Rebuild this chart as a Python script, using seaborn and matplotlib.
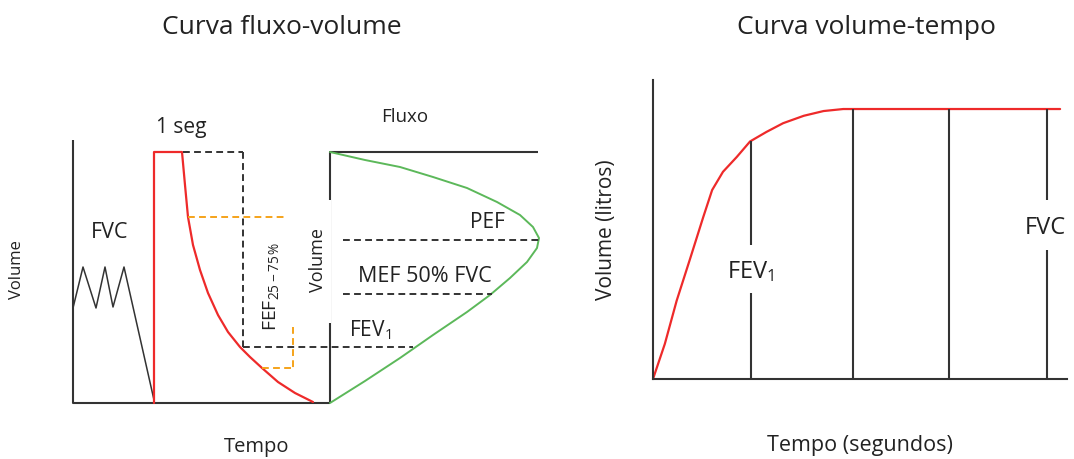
import numpy as np
import pandas as pd
import matplotlib.pyplot as plt
from matplotlib.patches import Rectangle
import seaborn as sns

sns.set_theme(style='white')
plt.rcParams['font.family'] = ['Open Sans', 'DejaVu Sans']
plt.rcParams['mathtext.fontset'] = 'custom'
plt.rcParams['mathtext.rm'] = 'Open Sans'
plt.rcParams['mathtext.it'] = 'Open Sans:italic'

RED = '#ee2a2a'
GREEN = '#5cb85a'
ORANGE = '#f5a31a'
DARK = '#333333'
TXT = '#222222'

# --- painel esquerdo (esquema, em coordenadas de pixel) ---
zigzag_x = [73, 83, 96, 105, 113, 124, 154]
zigzag_y = [308, 267, 308, 267, 307, 267, 400]

red_x = [154, 154, 182, 185, 188, 193, 200, 208, 218, 228, 240, 250, 262, 278, 295, 313]
red_y = [403, 152, 152, 185, 217, 245, 270, 293, 315, 332, 347, 357, 368, 382, 393, 402]

green_x = [330, 365, 400, 433, 467, 497, 520, 533, 539, 537, 527, 510, 490, 467, 433, 400, 365, 330]
green_y = [152, 160, 167, 177, 188, 202, 215, 227, 238, 248, 262, 278, 295, 312, 335, 358, 381, 403]

# linhas tracejadas: (x0, x1, y)
black_dash_h = [(183, 243, 152), (243, 413, 347), (343, 539, 240), (343, 492, 294)]
black_dash_v = [(243, 152, 347)]
orange_dash_h = [(188, 285, 217), (262, 293, 368)]
orange_dash_v = [(293, 327, 368)]

# --- painel direito: curva volume-tempo ---
tempo_s = [0, 0.12, 0.24, 0.376, 0.51, 0.60, 0.71, 0.85, 0.985, 1.15, 1.32, 1.53, 1.73, 1.93, 2.03, 4.13]
volume_l = [0, 0.52, 1.16, 1.78, 2.40, 2.80, 3.07, 3.29, 3.52, 3.66, 3.79, 3.90, 3.97, 4.0, 4.0, 4.0]
marcas_t = [0.99, 2.03, 3.0, 4.0]
fev1 = 3.53
fvc = 4.0

fig = plt.figure(figsize=(10.74, 4.59), dpi=100)

axl = fig.add_axes([0, 0, 1, 1])
axl.set_axis_off()

# eixos
axl.plot([73, 73, 330], [140, 403, 403], color=DARK, lw=1.5, solid_capstyle='butt')
axl.plot([330, 330, 538], [403, 152, 152], color=DARK, lw=1.5, solid_capstyle='butt')

sns.lineplot(x=zigzag_x, y=zigzag_y, sort=False, estimator=None, ax=axl, color=DARK, lw=1.1)
sns.lineplot(x=red_x, y=red_y, sort=False, estimator=None, ax=axl, color=RED, lw=1.6,
             solid_joinstyle='round')
sns.lineplot(x=green_x, y=green_y, sort=False, estimator=None, ax=axl, color=GREEN, lw=1.4,
             solid_joinstyle='round')

for x0, x1, y in black_dash_h:
    axl.plot([x0, x1], [y, y], color=DARK, lw=1.4, dashes=(3.5, 2.2))
for x, y0, y1 in black_dash_v:
    axl.plot([x, x], [y0, y1], color=DARK, lw=1.4, dashes=(3.5, 2.2))
for x0, x1, y in orange_dash_h:
    axl.plot([x0, x1], [y, y], color=ORANGE, lw=1.4, dashes=(3.5, 2.2))
for x, y0, y1 in orange_dash_v:
    axl.plot([x, x], [y0, y1], color=ORANGE, lw=1.4, dashes=(3.5, 2.2))

axl.add_patch(Rectangle((285, 200), 46, 123, facecolor='white', edgecolor='none', zorder=5))

axl.set_xlim(0, 1074)
axl.set_ylim(459, 0)

kw = dict(ha='center', va='center', color=TXT, zorder=6)
axl.text(282, 28, 'Curva fluxo-volume', fontsize=19, **kw)
axl.text(17, 270, 'Volume', fontsize=12, rotation=90, **kw)
axl.text(257, 447, 'Tempo', fontsize=14.5, **kw)
axl.text(181, 127, '1 seg', fontsize=15, **kw)
axl.text(110, 233, 'FVC', fontsize=15.5, **kw)
axl.text(271, 286, 'FEF$_{25-75\\,\\%}$', fontsize=14, rotation=90, **kw)
axl.text(318, 260, 'Volume', fontsize=13, rotation=90, **kw)
axl.text(405, 117, 'Fluxo', fontsize=13.5, **kw)
axl.text(487, 223, 'PEF', fontsize=15, **kw)
axl.text(425, 277, 'MEF 50% FVC', fontsize=15.5, **kw)
axl.text(370, 330, 'FEV$_1$', fontsize=15, **kw)

# painel direito
W, H = 1074, 459
axr = fig.add_axes([653 / W, (H - 379) / H, (1067 - 653) / W, (379 - 80) / H])
axr.patch.set_alpha(0)
sns.lineplot(x=tempo_s, y=volume_l, sort=False, estimator=None, ax=axr, color=RED, lw=1.6,
             solid_joinstyle='round')

t_fev, t2, t3, t_fvc = marcas_t
axr.vlines(t_fev, 0, 1.27, color=DARK, lw=1.5)
axr.vlines(t_fev, 1.99, fev1, color=DARK, lw=1.5)
axr.vlines([t2, t3], 0, fvc, color=DARK, lw=1.5)
axr.vlines(t_fvc, 0, 1.91, color=DARK, lw=1.5)
axr.vlines(t_fvc, 2.65, fvc, color=DARK, lw=1.5)
axr.text(t_fev, 1.59, 'FEV$_1$', fontsize=17, ha='center', va='center', color=TXT)
axr.text(3.98, 2.24, 'FVC', fontsize=17, ha='center', va='center', color=TXT, clip_on=False)

axr.set_xlim(0, 4.2)
axr.set_ylim(0, 4.43)
axr.set_xticks([])
axr.set_yticks([])
sns.despine(ax=axr)
for s in ['left', 'bottom']:
    axr.spines[s].set_color(DARK)
    axr.spines[s].set_linewidth(1.5)
axr.set_xlabel('Tempo (segundos)', fontsize=15.5, labelpad=40, color=TXT)
axr.set_ylabel('Volume (litros)', fontsize=15, labelpad=26, color=TXT)
fig.text(866 / W, 1 - 28 / H, 'Curva volume-tempo', fontsize=19, ha='center', va='center', color=TXT)

fig.savefig('out.png', dpi=100)
